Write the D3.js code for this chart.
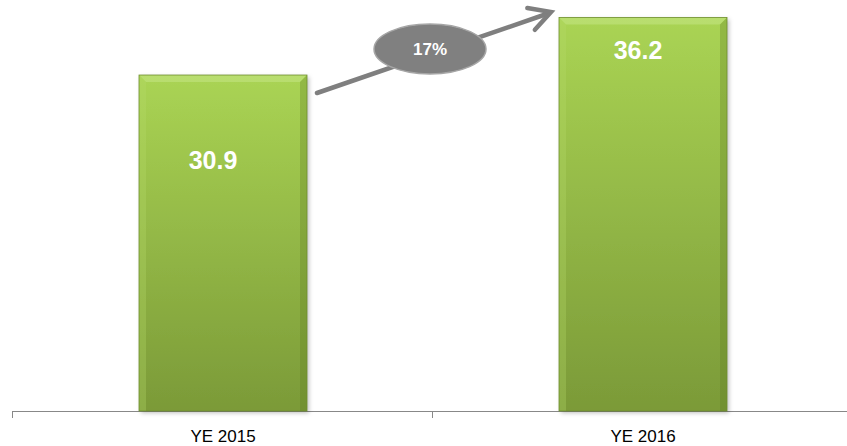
<!DOCTYPE html>
<html><head><meta charset="utf-8">
<script src="https://cdn.jsdelivr.net/npm/d3@7"></script>
<style>body{margin:0;background:#fff}svg{display:block}</style>
</head><body>
<svg id="c" width="847" height="446"></svg>
<script>
const categories = ["YE 2015", "YE 2016"];
const values = [30.9, 36.2];
const valueLabels = ["30.9", "36.2"];
const growthLabel = "17%";

const svg = d3.select("#c");
const baseY = 411;
const x = d3.scaleBand().domain(categories).range([12, 852]).paddingInner(0.6).paddingOuter(0.3);
const y = d3.scaleLinear().domain([0, 37.8]).range([baseY, 0]);

const defs = svg.append("defs");
const g = defs.append("linearGradient").attr("id", "gb").attr("x1", 0).attr("y1", 0).attr("x2", 0).attr("y2", 1);
g.append("stop").attr("offset", "0%").attr("stop-color", "#aad454");
g.append("stop").attr("offset", "100%").attr("stop-color", "#7b9a38");
const f = defs.append("filter").attr("id", "sh").attr("x", "-10%").attr("y", "-10%").attr("width", "130%").attr("height", "130%");
f.append("feDropShadow").attr("dx", 2).attr("dy", 2).attr("stdDeviation", 2).attr("flood-color", "#000").attr("flood-opacity", 0.25);

// axis
const xs = [x.range()[0], x.range()[0] + x.step(), x.range()[0] + 2 * x.step()];
svg.append("line").attr("x1", 12).attr("x2", 847).attr("y1", baseY + 0.5).attr("y2", baseY + 0.5).attr("stroke", "#888").attr("stroke-width", 1);
xs.forEach(t => svg.append("line").attr("x1", t + 0.5).attr("x2", t + 0.5).attr("y1", baseY).attr("y2", baseY + 7).attr("stroke", "#888"));

// bars
const bev = 7;
categories.forEach((c, i) => {
  const x0 = x(c) + 1, w = x.bandwidth(), y0 = y(values[i]), h = baseY - y0;
  const bg = svg.append("g");
  bg.append("rect").attr("x", x0).attr("y", y0).attr("width", w).attr("height", h).attr("fill", "url(#gb)").attr("filter", "url(#sh)");
  const x1 = x0 + w, y1 = baseY;
  bg.append("polygon").attr("points", [[x0, y0], [x1, y0], [x1 - bev, y0 + bev], [x0 + bev, y0 + bev]].join(" ")).attr("fill", "#c8e88a").attr("opacity", 0.5);
  bg.append("polygon").attr("points", [[x0, y0], [x0 + bev, y0 + bev], [x0 + bev, y1], [x0, y1]].join(" ")).attr("fill", "#b6dc6a").attr("opacity", 0.3);
  bg.append("polygon").attr("points", [[x1, y0], [x1 - bev, y0 + bev], [x1 - bev, y1], [x1, y1]].join(" ")).attr("fill", "#5e7a22").attr("opacity", 0.3);
  bg.append("rect").attr("x", x0).attr("y", y0).attr("width", w).attr("height", h).attr("fill", "none").attr("stroke", "#6f8f2e").attr("stroke-width", 0.8);
});

// value labels
const labelOff = [94, 42];
const labelDx = [-10, -5];
categories.forEach((c, i) => {
  svg.append("text").attr("x", x(c) + 1 + x.bandwidth() / 2 + labelDx[i]).attr("y", y(values[i]) + labelOff[i])
    .attr("text-anchor", "middle").attr("fill", "#fff").attr("font-family", "Liberation Sans, Arial, sans-serif")
    .attr("font-weight", "bold").attr("font-size", 25).text(valueLabels[i]);
});

// category labels
categories.forEach(c => {
  svg.append("text").attr("x", x(c) + 1 + x.bandwidth() / 2).attr("y", 442).attr("text-anchor", "middle")
    .attr("fill", "#000").attr("font-family", "Liberation Sans, Arial, sans-serif").attr("font-size", 17).text(c);
});

// growth arrow
const ax0 = x(categories[0]) + x.bandwidth() + 11, ay0 = 93, ax1 = x(categories[1]) - 7, ay1 = 12;
svg.append("line").attr("x1", ax0).attr("y1", ay0).attr("x2", ax1 - 3).attr("y2", ay1 + 1.5).attr("stroke", "#7f7f7f").attr("stroke-width", 4.5).attr("stroke-linecap", "round");
const ang = Math.atan2(ay1 - ay0, ax1 - ax0);
const L = 24, sp = 0.5;
const head = [[ax1 - L * Math.cos(ang - sp), ay1 - L * Math.sin(ang - sp)], [ax1, ay1], [ax1 - L * Math.cos(ang + sp), ay1 - L * Math.sin(ang + sp)]];
svg.append("path").attr("d", d3.line()(head)).attr("fill", "none").attr("stroke", "#7f7f7f").attr("stroke-width", 4.5).attr("stroke-linecap", "round").attr("stroke-linejoin", "miter");
svg.append("ellipse").attr("cx", 430).attr("cy", 49).attr("rx", 56).attr("ry", 25).attr("fill", "#808080").attr("stroke", "#a6a6a6").attr("stroke-width", 1.5);
svg.append("text").attr("x", 430).attr("y", 55).attr("text-anchor", "middle").attr("fill", "#fff")
  .attr("font-family", "Liberation Sans, Arial, sans-serif").attr("font-weight", "bold").attr("font-size", 17).text(growthLabel);
</script>
</body></html>
